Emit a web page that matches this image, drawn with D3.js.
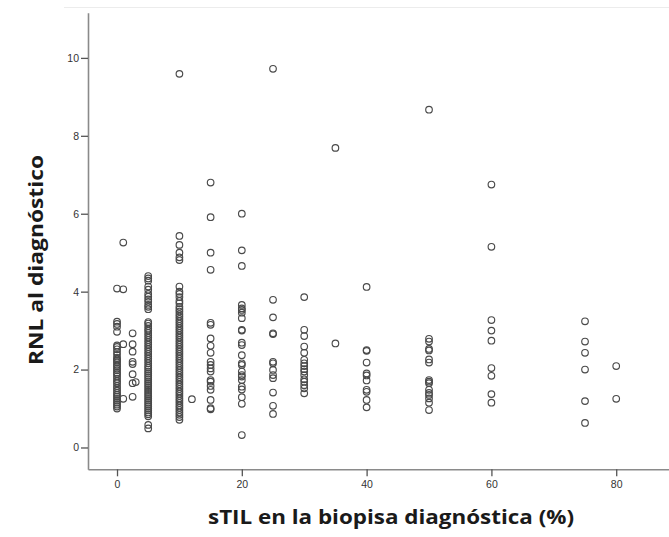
<!DOCTYPE html>
<html>
<head>
<meta charset="utf-8">
<script src="https://cdn.jsdelivr.net/npm/d3@7"></script>
<style>
  html, body { margin: 0; padding: 0; background: #fff; }
  svg { display: block; }
</style>
</head>
<body>
<svg id="chart" width="669" height="537"></svg>
<script>
// sTIL (%) values at which patients were observed
const stil = [0, 1, 2.5, 3, 5, 10, 12, 15, 20, 25, 30, 35, 40, 50, 60, 75, 80];

// RNL at diagnosis, one list per sTIL value above (same order)
const rnl = [
  [4.08, 3.23, 3.17, 3.10, 2.97, 2.62, 2.58, 2.52, 2.45, 2.38, 2.30, 2.26, 2.22, 2.18, 2.12, 2.08,
   2.02, 1.98, 1.92, 1.88, 1.82, 1.76, 1.70, 1.65, 1.58, 1.52, 1.46, 1.40, 1.35, 1.30, 1.25,
   1.20, 1.15, 1.10, 1.05, 1.00],
  [5.26, 4.06, 2.65, 1.25],
  [2.93, 2.65, 2.46, 2.20, 2.14, 1.88, 1.65, 1.30],
  [1.68],
  [4.40, 4.34, 4.28, 4.13, 4.05, 3.94, 3.87, 3.80, 3.74, 3.66, 3.61, 3.55, 3.22, 3.18, 3.12,
   3.05, 3.00, 2.94, 2.88, 2.82, 2.76, 2.70, 2.64, 2.58, 2.52, 2.46, 2.40, 2.34, 2.28, 2.22,
   2.16, 2.10, 2.05, 2.00, 1.95, 1.90, 1.85, 1.80, 1.75, 1.70, 1.65, 1.60, 1.55, 1.50, 1.45,
   1.40, 1.35, 1.30, 1.25, 1.20, 1.15, 1.10, 1.05, 1.00, 0.95, 0.90, 0.85, 0.80, 0.58, 0.49],
  [9.59, 5.43, 5.20, 5.00, 4.88, 4.81, 4.13, 4.00, 3.94, 3.86, 3.76, 3.70, 3.61, 3.55, 3.49,
   3.42, 3.36, 3.30, 3.24, 3.18, 3.12, 3.06, 3.00, 2.94, 2.88, 2.82, 2.76, 2.70, 2.64, 2.58,
   2.52, 2.46, 2.40, 2.34, 2.28, 2.22, 2.16, 2.10, 2.04, 1.98, 1.92, 1.86, 1.80, 1.74, 1.68,
   1.62, 1.56, 1.50, 1.44, 1.38, 1.32, 1.26, 1.20, 1.14, 1.08, 1.02, 0.96, 0.90, 0.84, 0.78, 0.71],
  [1.24],
  [6.80, 5.91, 5.00, 4.56, 3.20, 3.15, 2.80, 2.61, 2.43, 2.20, 2.12, 2.03, 1.95, 1.73, 1.69,
   1.58, 1.48, 1.22, 1.01, 0.98],
  [6.00, 5.06, 4.66, 3.66, 3.57, 3.53, 3.46, 3.32, 3.02, 3.00, 2.69, 2.63, 2.37, 2.16, 2.12,
   1.95, 1.86, 1.82, 1.73, 1.56, 1.49, 1.29, 1.12, 0.32],
  [9.72, 3.79, 3.34, 2.93, 2.91, 2.20, 2.16, 1.99, 1.86, 1.78, 1.41, 1.07, 0.86],
  [3.86, 3.02, 2.86, 2.59, 2.43, 2.25, 2.16, 2.09, 2.01, 1.95, 1.86, 1.75, 1.69, 1.60, 1.52, 1.39],
  [7.69, 2.67],
  [4.12, 2.50, 2.48, 2.18, 1.90, 1.85, 1.72, 1.48, 1.43, 1.22, 1.03],
  [8.67, 2.79, 2.72, 2.53, 2.49, 2.26, 2.18, 1.73, 1.69, 1.65, 1.48, 1.40, 1.35, 1.26, 1.15, 0.96],
  [6.75, 5.15, 3.27, 3.00, 2.74, 2.04, 1.84, 1.37, 1.15],
  [3.24, 2.72, 2.43, 2.00, 1.19, 0.63],
  [2.09, 1.25]
];

const xTicks = [0, 20, 40, 60, 80];
const yTicks = [0, 2, 4, 6, 8, 10];

const xTitle = "sTIL en la biopisa diagnóstica (%)";
const yTitle = "RNL al diagnóstico";

// flatten into point records
const points = [];
stil.forEach((s, i) => rnl[i].forEach(v => points.push({ x: s, y: v })));

const svg = d3.select("#chart");

const plotLeft = 88, plotRight = 669, plotTop = 12.7, plotBottom = 469.3;

const x = d3.scaleLinear().domain([-4.65, 88.46]).range([plotLeft, plotRight]);
const y = d3.scaleLinear().domain([-0.56, 11.16]).range([plotBottom, plotTop]);

// thin frame line along the top edge
svg.append("line")
  .attr("x1", 64).attr("x2", 669).attr("y1", 7.5).attr("y2", 7.5)
  .attr("stroke", "#ececec").attr("stroke-width", 1);

const axisColor = "#8a8a8a";
const tickFont = "'Liberation Sans', Arial, sans-serif";

// x axis
const gx = svg.append("g")
  .attr("transform", `translate(0,${plotBottom})`)
  .call(d3.axisBottom(x).tickValues(xTicks).tickSize(7).tickPadding(4).tickSizeOuter(0));
gx.select(".domain").attr("stroke", axisColor).attr("stroke-width", 1.6);
gx.selectAll(".tick line").attr("stroke", "#555").attr("stroke-width", 1.3);
gx.selectAll(".tick text")
  .attr("fill", "#333").style("font-family", tickFont).style("font-size", "10.5px");

// y axis
const gy = svg.append("g")
  .attr("transform", `translate(${plotLeft},0)`)
  .call(d3.axisLeft(y).tickValues(yTicks).tickSize(7).tickPadding(2).tickSizeOuter(0));
gy.select(".domain").attr("stroke", axisColor).attr("stroke-width", 1.6);
gy.selectAll(".tick line").attr("stroke", "#555").attr("stroke-width", 1.3);
gy.selectAll(".tick text")
  .attr("fill", "#333").style("font-family", tickFont).style("font-size", "10.5px");

// scatter points: open circles
svg.append("g")
  .selectAll("circle")
  .data(points)
  .join("circle")
  .attr("cx", d => x(d.x))
  .attr("cy", d => y(d.y))
  .attr("r", 3.3)
  .attr("fill", "none")
  .attr("stroke", "#4a4a4a")
  .attr("stroke-width", 1.15);

// axis titles
const titleFont = "'Open Sans', 'Noto Sans', sans-serif";

svg.append("text")
  .attr("x", 391).attr("y", 524)
  .attr("text-anchor", "middle")
  .style("font-family", titleFont)
  .style("font-weight", "bold")
  .style("font-size", "20px")
  .attr("fill", "#1a1a1a")
  .attr("textLength", 366)
  .attr("lengthAdjust", "spacingAndGlyphs")
  .text(xTitle);

svg.append("text")
  .attr("transform", "translate(43,260) rotate(-90)")
  .attr("text-anchor", "middle")
  .style("font-family", titleFont)
  .style("font-weight", "bold")
  .style("font-size", "20px")
  .attr("fill", "#1a1a1a")
  .attr("textLength", 210)
  .attr("lengthAdjust", "spacingAndGlyphs")
  .text(yTitle);
</script>
</body>
</html>
